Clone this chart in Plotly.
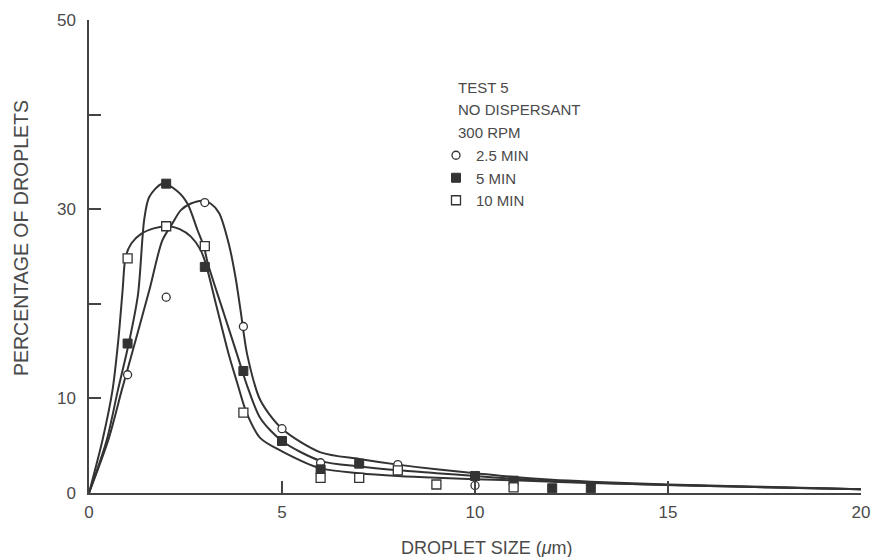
import plotly.graph_objects as go

x_25 = [1, 2, 3, 4, 5, 6, 8, 10]
y_25 = [12.5, 20.7, 30.7, 17.6, 6.8, 3.2, 3.0, 0.8]

x_5 = [1, 2, 3, 4, 5, 6, 7, 10, 11, 12, 13]
y_5 = [15.8, 32.7, 23.9, 12.9, 5.5, 2.5, 3.1, 1.8, 1.3, 0.5, 0.5]

x_10 = [1, 2, 3, 4, 6, 7, 8, 9, 11]
y_10 = [24.8, 28.2, 26.1, 8.5, 1.6, 1.6, 2.4, 0.9, 0.6]

# ---- hand-drawn fitted curves ----
cx_25 = [0, 0.5, 0.85, 0.96, 1.56, 1.9, 2.16, 2.38, 2.64, 2.95, 3.15, 3.37, 3.63, 3.8, 3.93,
         4.1, 4.44, 5, 6, 7, 8, 9, 10, 11, 12, 13, 15, 17, 20]
cy_25 = [0, 5.6, 10.9, 12.5, 21.4, 26.7, 28.5, 29.9, 30.6, 30.9, 30.6, 29.6, 26.2, 22.7, 19.2,
         14.6, 9.8, 6.8, 4.3, 3.6, 3.0, 2.5, 2.1, 1.7, 1.4, 1.2, 0.9, 0.7, 0.4]

cx_5 = [0, 0.46, 0.75, 1.03, 1.27, 1.43, 1.56, 1.9, 2.29, 2.55, 2.81, 2.98, 3.07, 3.5, 3.84,
        4.1, 4.44, 5, 6, 7, 8, 9, 10, 11, 12, 13, 15, 17, 20]
cy_5 = [0, 5.6, 10.9, 15.8, 21, 28.9, 31.3, 32.7, 31.9, 30.6, 27.8, 26.0, 24.4, 18.9, 14.6,
        11.3, 7.9, 5.5, 3.4, 2.8, 2.4, 2.1, 1.8, 1.5, 1.25, 1.1, 0.85, 0.65, 0.4]

cx_10 = [0, 0.35, 0.61, 0.76, 0.87, 0.95, 1.1, 1.35, 1.7, 2.05, 2.35, 2.64, 2.89, 3.02, 3.3,
         3.63, 3.85, 4.08, 4.44, 5, 6, 7, 8, 9, 10, 11, 12, 13, 15, 17, 20]
cy_10 = [0, 5.6, 10.9, 16.2, 21.4, 25.0, 26.4, 27.4, 28.0, 28.2, 27.9, 27.1, 25.7, 24.3, 19.8,
         14.5, 11.5, 8.5, 5.8, 4.4, 2.6, 2.1, 1.8, 1.6, 1.45, 1.35, 1.2, 1.05, 0.85, 0.65, 0.4]

x_ticks = [0, 5, 10, 15, 20]
y_ticks = [0, 10, 20, 30, 40, 50]
y_ticktext = ["0", "10", "", "30", "", "50"]
header_lines = ["TEST 5", "NO DISPERSANT", "300 RPM"]

INK = "#333333"
TXT = "#4a4a4a"
FONT = "Liberation Sans, Arial, sans-serif"

fig = go.Figure()

for cx, cy in [(cx_25, cy_25), (cx_5, cy_5), (cx_10, cy_10)]:
    fig.add_trace(go.Scatter(x=cx, y=cy, mode="lines",
                             line=dict(color=INK, width=2, shape="spline", smoothing=0.8),
                             showlegend=False, hoverinfo="skip"))

fig.add_trace(go.Scatter(x=x_25, y=y_25, mode="markers", name="2.5 MIN",
                         marker=dict(symbol="circle", size=8, color="white",
                                     line=dict(color=INK, width=1.3))))
fig.add_trace(go.Scatter(x=x_5, y=y_5, mode="markers", name="5 MIN",
                         marker=dict(symbol="square", size=9, color=INK,
                                     line=dict(color=INK, width=1))))
fig.add_trace(go.Scatter(x=x_10, y=y_10, mode="markers", name="10 MIN",
                         marker=dict(symbol="square", size=9, color="white",
                                     line=dict(color=INK, width=1.3))))

# plot area in pixels: x 89..861, y 20..493
L, R, T, B = 89, 12, 20, 64
W, H = 873, 557
PW, PH = W - L - R, H - T - B


def px(xp):
    return (xp - L) / PW


def py(yp):
    return (T + PH - yp) / PH


annotations = []
for i, line in enumerate(header_lines):
    annotations.append(dict(text=line, x=px(456), y=py([87, 109, 132][i]), xref="paper",
                            yref="paper", xanchor="left", yanchor="middle", showarrow=False,
                            font=dict(family=FONT, size=15, color=TXT)))
annotations.append(dict(text="DROPLET SIZE (<i>μ</i>m)", x=px(487), y=py(548), xref="paper",
                        yref="paper", xanchor="center", yanchor="middle", showarrow=False,
                        font=dict(family=FONT, size=18, color=TXT)))
annotations.append(dict(text="PERCENTAGE OF DROPLETS", x=px(21), y=py(238), xref="paper",
                        yref="paper", xanchor="center", yanchor="middle", showarrow=False,
                        textangle=-90, font=dict(family=FONT, size=19.5, color=TXT)))

fig.update_layout(
    width=W, height=H,
    margin=dict(l=L, r=R, t=T, b=B, autoexpand=False),
    paper_bgcolor="white", plot_bgcolor="white",
    font=dict(family=FONT, color=TXT),
    showlegend=True,
    legend=dict(x=px(436), y=py(139), xanchor="left", yanchor="top",
                bgcolor="rgba(0,0,0,0)", font=dict(family=FONT, size=15, color=TXT),
                itemwidth=30, tracegroupgap=0),
    annotations=annotations,
    xaxis=dict(range=[0, 20], tickvals=x_ticks, ticks="inside", ticklen=12, tickwidth=1.5,
               tickcolor="#444", showline=True, linecolor="#444", linewidth=1.5,
               showgrid=False, zeroline=False, ticklabelstandoff=3, automargin=False,
               tickfont=dict(family=FONT, size=17, color=TXT)),
    yaxis=dict(range=[0, 50], tickvals=y_ticks, ticktext=y_ticktext, ticks="inside",
               ticklen=12, tickwidth=1.5, tickcolor="#444", showline=True, linecolor="#444",
               linewidth=1.5, showgrid=False, zeroline=False, ticklabelstandoff=8,
               automargin=False, tickfont=dict(family=FONT, size=17, color=TXT)),
)

fig.write_html("out.html")
